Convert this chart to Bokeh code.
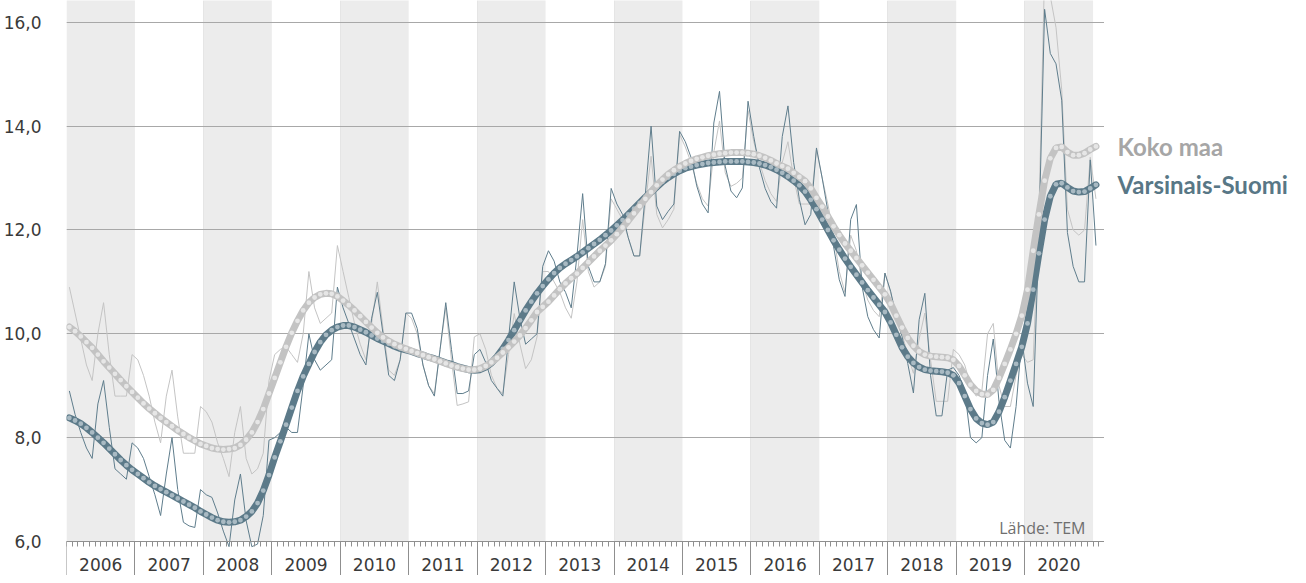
from bokeh.plotting import figure
from bokeh.layouts import row
from bokeh.models import (Range1d, FixedTicker, LinearAxis, Label, ColumnDataSource,
                          Grid, CustomJSTickFormatter)
from bokeh.core.properties import value
from bokeh.embed import file_html
from bokeh.resources import INLINE

# ---------------- data ----------------
years = list(range(2006, 2021))          # year bands / labels
first_year = 2006
y_ticks = [6, 8, 10, 12, 14, 16]

# monthly values Jan 2006 ... Jan 2021 (one row per year)
vs_raw = [
    8.9, 8.45, 8.1, 7.8, 7.6, 8.65, 9.1, 8.2, 7.4, 7.3, 7.2, 7.9,          # 2006
    7.8, 7.6, 7.25, 6.9, 6.5, 7.3, 8.0, 7.0, 6.37, 6.3, 6.27, 7.0,         # 2007
    6.9, 6.85, 6.55, 6.2, 5.9, 6.8, 7.3, 6.4, 5.9, 5.95, 6.5, 7.95,        # 2008
    8.0, 8.1, 8.2, 8.1, 8.1, 9.0, 10.0, 9.5, 9.3, 9.4, 9.5, 10.9,          # 2009
    10.5, 10.2, 9.9, 9.6, 9.4, 10.3, 10.8, 10.0, 9.2, 9.1, 9.5, 10.4,      # 2010
    10.4, 10.1, 9.4, 9.0, 8.8, 9.7, 10.6, 9.7, 8.85, 8.85, 8.9, 9.6,       # 2011
    9.7, 9.45, 9.1, 8.95, 8.8, 9.9, 11.0, 10.3, 9.8, 9.9, 10.0, 11.3,      # 2012
    11.6, 11.4, 11.0, 10.8, 10.5, 11.5, 12.7, 11.3, 11.0, 11.0, 11.35, 12.8,   # 2013
    12.5, 12.3, 11.85, 11.5, 11.5, 12.7, 14.0, 12.46, 12.2, 12.36, 12.5, 13.9,  # 2014
    13.7, 13.4, 12.85, 12.5, 12.33, 14.06, 14.67, 13.23, 12.75, 12.62, 12.81, 14.48,  # 2015
    13.8, 13.2, 12.8, 12.55, 12.42, 13.8, 14.39, 13.3, 12.59, 12.1, 12.3, 13.58,      # 2016
    13.0, 12.36, 11.68, 11.04, 10.72, 12.2, 12.49, 10.91, 10.33, 10.08, 9.92, 11.17,  # 2017
    10.82, 10.33, 9.95, 9.43, 8.86, 10.27, 10.78, 9.2, 8.42, 8.42, 9.3, 9.35,         # 2018
    9.2, 8.9, 8.0, 7.9, 8.0, 9.2, 9.9, 8.7, 7.95, 7.8, 8.6, 9.9,                      # 2019
    9.05, 8.6, 11.9, 16.25, 15.4, 15.2, 14.5, 11.95, 11.3, 11.0, 11.0, 13.35,         # 2020
    11.7,                                                                             # 2021
]
km_raw = [
    10.9, 10.4, 9.9, 9.4, 9.1, 10.0, 10.6, 9.6, 8.8, 8.8, 8.8, 9.6,        # 2006
    9.5, 9.2, 8.8, 8.3, 7.9, 8.8, 9.3, 8.4, 7.7, 7.7, 7.7, 8.6,            # 2007
    8.5, 8.3, 7.9, 7.6, 7.25, 8.1, 8.6, 7.6, 7.3, 7.4, 7.7, 9.1,           # 2008
    9.6, 9.7, 9.75, 9.6, 9.45, 10.0, 11.2, 10.5, 10.2, 10.3, 10.4, 11.7,   # 2009
    11.2, 10.7, 10.2, 9.8, 9.5, 10.2, 11.0, 10.1, 9.3, 9.2, 9.5, 10.4,     # 2010
    10.3, 10.0, 9.4, 9.0, 8.85, 9.7, 10.5, 9.5, 8.62, 8.65, 8.69, 9.94,    # 2011
    10.0, 9.7, 9.2, 8.95, 8.85, 9.6, 10.39, 9.8, 9.33, 9.5, 9.94, 11.2,    # 2012
    11.2, 11.0, 10.8, 10.5, 10.3, 11.0, 12.2, 11.2, 10.9, 11.0, 11.3, 12.6,    # 2013
    12.4, 12.2, 11.85, 11.5, 11.5, 12.5, 13.42, 12.3, 12.04, 12.2, 12.4, 13.84,  # 2014
    13.6, 13.3, 12.9, 12.6, 12.46, 13.5, 14.1, 13.1, 12.84, 12.9, 13.0, 14.3,    # 2015
    13.7, 13.3, 12.95, 12.7, 12.55, 13.3, 13.7, 13.0, 12.5, 12.5, 12.5, 13.55,   # 2016
    13.0, 12.5, 11.9, 11.2, 10.8, 11.9, 11.6, 11.0, 10.65, 10.45, 10.33, 11.17,  # 2017
    10.8, 10.3, 10.0, 9.6, 9.24, 9.9, 10.4, 9.5, 8.7, 8.7, 8.7, 9.7,             # 2018
    9.6, 9.4, 9.0, 8.8, 8.9, 10.0, 10.2, 9.0, 8.6, 8.6, 9.2, 9.6,                # 2019
    9.45, 9.5, 12.3, 17.0, 16.5, 15.9, 14.7, 12.4, 12.0, 11.9, 12.0, 13.4,       # 2020
    12.6,                                                                        # 2021
]
vs_trend = [
    8.38, 8.33, 8.27, 8.19, 8.10, 8.00, 7.90, 7.79, 7.68, 7.57, 7.47, 7.38,
    7.30, 7.22, 7.14, 7.07, 7.01, 6.95, 6.89, 6.83, 6.77, 6.71, 6.65, 6.58,
    6.52, 6.46, 6.41, 6.38, 6.37, 6.38, 6.41, 6.48, 6.58, 6.74, 6.98, 7.28,
    7.62, 7.93, 8.25, 8.58, 8.90, 9.18, 9.42, 9.65, 9.84, 9.98, 10.07, 10.13,
    10.16, 10.16, 10.13, 10.08, 10.03, 9.97, 9.91, 9.86, 9.81, 9.76, 9.72, 9.69,
    9.66, 9.62, 9.59, 9.55, 9.52, 9.48, 9.44, 9.41, 9.37, 9.34, 9.31, 9.30,
    9.31, 9.36, 9.44, 9.56, 9.71, 9.88, 10.07, 10.26, 10.45, 10.62, 10.78, 10.92,
    11.05, 11.17, 11.27, 11.35, 11.42, 11.49, 11.57, 11.65, 11.73, 11.81, 11.90, 11.99,
    12.09, 12.19, 12.30, 12.41, 12.52, 12.63, 12.73, 12.83, 12.93, 13.01, 13.08, 13.14,
    13.19, 13.22, 13.25, 13.27, 13.29, 13.30, 13.31, 13.32, 13.32, 13.32, 13.32, 13.31,
    13.30, 13.28, 13.25, 13.21, 13.16, 13.10, 13.03, 12.95, 12.86, 12.74, 12.58, 12.40,
    12.20, 12.00, 11.80, 11.62, 11.45, 11.29, 11.14, 10.99, 10.84, 10.70, 10.56, 10.42,
    10.22, 9.98, 9.74, 9.56, 9.44, 9.36, 9.31, 9.29, 9.28, 9.27, 9.25, 9.20,
    9.05, 8.80, 8.55, 8.37, 8.28, 8.25, 8.30, 8.50, 8.78, 9.10, 9.42, 9.75,
    10.20, 10.85, 11.55, 12.20, 12.65, 12.88, 12.90, 12.82, 12.75, 12.73, 12.74, 12.80,
    12.87,
]
km_trend = [
    10.13, 10.05, 9.95, 9.84, 9.73, 9.60, 9.47, 9.35, 9.23, 9.11, 8.99, 8.88,
    8.77, 8.66, 8.56, 8.47, 8.38, 8.30, 8.22, 8.14, 8.07, 8.00, 7.94, 7.88,
    7.84, 7.80, 7.78, 7.77, 7.78, 7.80, 7.86, 7.96, 8.10, 8.30, 8.55, 8.85,
    9.15, 9.45, 9.75, 10.02, 10.25, 10.45, 10.60, 10.70, 10.76, 10.78, 10.77, 10.72,
    10.64, 10.55, 10.45, 10.34, 10.23, 10.12, 10.02, 9.93, 9.86, 9.80, 9.75, 9.71,
    9.67, 9.63, 9.59, 9.55, 9.51, 9.47, 9.43, 9.39, 9.36, 9.33, 9.31, 9.31,
    9.33, 9.38, 9.45, 9.54, 9.64, 9.74, 9.85, 9.97, 10.11, 10.26, 10.42, 10.52,
    10.62, 10.74, 10.86, 10.97, 11.07, 11.16, 11.27, 11.38, 11.49, 11.60, 11.70, 11.80,
    11.92, 12.05, 12.18, 12.32, 12.46, 12.60, 12.73, 12.86, 12.97, 13.07, 13.15, 13.22,
    13.28, 13.33, 13.37, 13.40, 13.43, 13.45, 13.47, 13.48, 13.49, 13.49, 13.49, 13.48,
    13.46, 13.43, 13.39, 13.34, 13.28, 13.23, 13.18, 13.10, 13.02, 12.94, 12.80, 12.62,
    12.45, 12.26, 12.07, 11.90, 11.74, 11.60, 11.46, 11.32, 11.18, 11.04, 10.90, 10.76,
    10.58, 10.35, 10.12, 9.92, 9.77, 9.66, 9.60, 9.57, 9.56, 9.55, 9.54, 9.50,
    9.38, 9.20, 9.02, 8.90, 8.84, 8.83, 8.92, 9.15, 9.42, 9.70, 10.00, 10.35,
    10.85, 11.60, 12.30, 12.95, 13.38, 13.58, 13.60, 13.50, 13.44, 13.44, 13.48, 13.55,
    13.61,
]
series_names = ["Koko maa", "Varsinais-Suomi"]
source_text = "Lähde: TEM"

# ---------------- derived ----------------
n = len(vs_raw)
months = [first_year + (i + 0.5) / 12.0 for i in range(n)]
x_end = first_year + (n + 1) / 12.0          # axis ends one month after the last point
src = ColumnDataSource(dict(x=months, vs=vs_raw, km=km_raw, vst=vs_trend, kmt=km_trend))

GRID = "#a8a8a8"
AX = "#8f8f8f"
KM_LINE = "#c3c3c3"
KM_DOT = "#e6e6e6"
VS_LINE = "#5c7a89"
VS_DOT = "#a9bac3"
FONT = "DejaVu Sans"
FRAME_H = 575

y_range = Range1d(5.345, 16.42)
p = figure(frame_width=1038, frame_height=FRAME_H, output_backend="svg", toolbar_location=None,
           x_range=Range1d(first_year, x_end + 0.0001), y_range=y_range,
           x_axis_location=None, y_axis_location=None,
           min_border_left=58, min_border_right=0, min_border_top=0, min_border_bottom=0)
p.outline_line_color = None
p.background_fill_color = "white"

# alternating year bands
band_years = years[::2]
bands = p.quad(left=band_years, right=[y + 1 for y in band_years], bottom=6, top=17,
               fill_color="#ececec", line_color=None)
bands.level = "image"

# y axis + grid
y_ticker = FixedTicker(ticks=y_ticks)
yax = LinearAxis(ticker=y_ticker,
                 formatter=CustomJSTickFormatter(code="return tick.toFixed(1).replace('.', ',')"),
                 axis_line_color=None, major_tick_line_color=None, minor_tick_line_color=None,
                 major_label_standoff=19, major_label_text_font=FONT,
                 major_label_text_font_size="17px", major_label_text_color="#3a3a3a")
p.add_layout(yax, "left")
p.add_layout(Grid(dimension=1, ticker=y_ticker, grid_line_color=GRID, grid_line_width=1))

# x axis with year labels and monthly minor ticks, placed at y = 6
mid_years = [y + 0.5 for y in years]
month_bounds = [first_year + k / 12.0 for k in range(0, n + 2)]
xax = LinearAxis(ticker=FixedTicker(ticks=mid_years, minor_ticks=month_bounds),
                 formatter=CustomJSTickFormatter(code="return Math.floor(tick).toString()"),
                 fixed_location=6,
                 axis_line_color=AX, axis_line_width=1,
                 major_tick_line_color=None, major_tick_out=0, major_tick_in=0,
                 minor_tick_line_color=AX, minor_tick_out=5, minor_tick_in=0,
                 major_label_standoff=12, major_label_text_font=FONT,
                 major_label_text_font_size="17px", major_label_text_color="#3a3a3a")
p.add_layout(xax, "below")

# year separators
bounds = [float(y) for y in years] + [x_end]
xsep = LinearAxis(ticker=FixedTicker(ticks=bounds, minor_ticks=[]),
                  formatter=CustomJSTickFormatter(code="return ''"),
                  fixed_location=6, axis_line_color=None,
                  major_tick_line_color=AX, major_tick_out=45, major_tick_in=0,
                  minor_tick_line_color=None, major_label_text_font_size="1px")
p.add_layout(xsep, "below")

# raw monthly lines
p.line("x", "km", source=src, line_color="#c4c4c4", line_width=1)
p.line("x", "vs", source=src, line_color="#5f7d8c", line_width=1)

# trend lines with dots
p.line("x", "vst", source=src, line_color=VS_LINE, line_width=7, line_cap="round")
p.scatter("x", "vst", source=src, size=4.8, fill_color=VS_DOT, line_color=None)
p.line("x", "kmt", source=src, line_color=KM_LINE, line_width=7, line_cap="round")
p.scatter("x", "kmt", source=src, size=4.8, fill_color=KM_DOT, line_color=None)

# source note
p.add_layout(Label(x=x_end, y=6, x_offset=-19, y_offset=2, text=source_text,
                   text_font="Open Sans", text_font_size="16px", text_color="#6f6f6f",
                   text_align="right", text_baseline="bottom"))

# end labels in a side panel sharing the y scale
leg = figure(frame_width=194, frame_height=FRAME_H, output_backend="svg", toolbar_location=None,
             x_range=Range1d(0, 194), y_range=y_range,
             x_axis_location=None, y_axis_location=None,
             min_border_left=0, min_border_right=0, min_border_top=0, min_border_bottom=0)
leg.outline_line_color = None
leg.grid.visible = False
leg.text(x=[13, 13], y=[km_trend[-1], vs_trend[-1]], text=series_names,
         text_color=["#a6a6a6", "#587786"],
         text_font=value("Lato"),
         text_font_style="bold", text_font_size="24px",
         text_baseline="middle", text_align="left")

layout = row(p, leg, spacing=0)
open("out.html", "w").write(file_html(layout, INLINE))
